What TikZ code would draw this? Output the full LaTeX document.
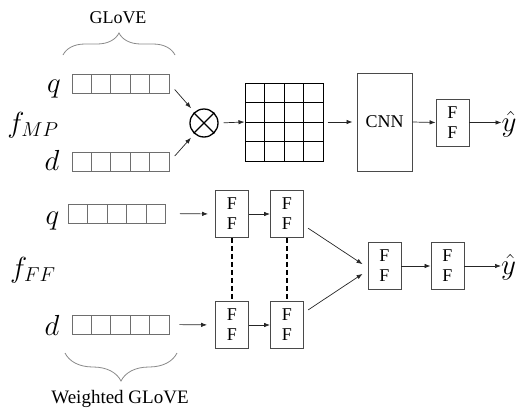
\documentclass[tikz,border=0pt]{standalone}
\usepackage{fontspec}
\setmainfont{Liberation Serif}
\usetikzlibrary{arrows.meta,decorations.pathreplacing}
\definecolor{rowgray}{HTML}{6E6E6E}
\definecolor{boxgray}{HTML}{4A4A4A}
\definecolor{bracegray}{HTML}{8A8A8A}
% subscripts at the usual 70% of the symbol size
\DeclareMathSizes{24.88}{24.88}{17.4}{12.4}
% large math symbols: set at the biggest design size and enlarged
\newcommand{\largemath}[1]{\scalebox{1.166}{$#1$}}
\begin{document}
\begin{tikzpicture}[x=1pt,y=-1pt,
  lbl/.style={font=\fontsize{18}{20}\selectfont, inner sep=0pt},
  mth/.style={font=\fontsize{24.88}{30}\selectfont, inner sep=0pt, anchor=base},
  vec/.style={draw=rowgray, line width=0.9pt, minimum width=97pt, minimum height=19pt,
    inner sep=0pt,
    path picture={\foreach \i in {1,...,4}{
      \draw[rowgray, line width=0.9pt]
        ([xshift=\i*19.4pt]path picture bounding box.south west) --
        ([xshift=\i*19.4pt]path picture bounding box.north west);}}},
  matgrid/.style={draw=black, line width=1pt, minimum size=78pt, inner sep=0pt,
    path picture={\foreach \i in {1,2,3}{
      \draw[black, line width=1pt]
        ([xshift=\i*19.5pt]path picture bounding box.south west) --
        ([xshift=\i*19.5pt]path picture bounding box.north west);
      \draw[black, line width=1pt]
        ([yshift=\i*19.5pt]path picture bounding box.south west) --
        ([yshift=\i*19.5pt]path picture bounding box.south east);}}},
  opcirc/.style={circle, draw=black, line width=1.3pt, minimum size=28pt, inner sep=0pt},
  cnnbox/.style={draw=boxgray, line width=0.9pt, minimum width=55pt, minimum height=98pt,
    font=\fontsize{18}{20}\selectfont},
  ffbox/.style={draw=boxgray, line width=0.9pt, minimum width=33pt, minimum height=47pt,
    inner sep=0pt, align=center, font=\fontsize{18}{20}\selectfont},
  arr/.style={-{Latex[length=6pt,width=4.5pt]}, line width=0.7pt, draw=black!85},
  link/.style={dash pattern=on 5pt off 3pt, line width=1.1pt},
  brc/.style={decorate, draw=bracegray, line width=0.8pt},
]
\useasboundingbox (0,0) rectangle (517,410);

% ---------- match-pyramid branch ----------
\node[lbl, anchor=base] (glove) at (118,23) {GLoVE};
\node[vec] (qA) at (120.5,83.5) {};
\node[vec] (dA) at (120.5,162) {};
\node[mth] (qAl) at (54,92) {\largemath{q}};
\node[mth] (dAl) at (52,170) {\largemath{d}};
\node[mth] (fMP) at (33,132) {\largemath{f_{MP}}};
\draw[brc, decoration={brace, amplitude=22pt}] (63,55) -- (175,55);

\node[opcirc] (ot) at (204,123) {};
\draw[line width=1.1pt] (ot.north east) -- (ot.south west);
\draw[line width=1.1pt] (ot.north west) -- (ot.south east);

\node[matgrid] (mat) at (284,122) {};
\node[cnnbox] (cnn) at (384.5,122) {CNN};
\node[ffbox] (ffA) at (452.5,122.5) {F\\F};
\node[mth, anchor=base west] (yA) at (501.5,131) {\largemath{\hat{y}}};

\draw[arr, shorten <=8pt, shorten >=5pt] (qA.east) -- (ot);
\draw[arr, shorten <=8pt, shorten >=5pt] (dA.east) -- (ot);
\draw[arr, shorten <=5pt] (ot.east) -- (mat.west);
\draw[arr, shorten <=4pt, shorten >=4pt] (mat.east) -- (cnn.west);
\draw[arr] (cnn.east) -- (ffA.west);
\draw[arr] (ffA.east) -- (ffA.east -| yA.west);

% ---------- feed-forward branch ----------
\node[vec] (qB) at (117,213.5) {};
\node[vec] (dB) at (120.5,324.5) {};
\node[mth] (qBl) at (52.5,224) {\largemath{q}};
\node[mth] (dBl) at (52,335) {\largemath{d}};
\node[mth] (fFF) at (33,277) {\largemath{f_{FF}}};
\draw[brc, decoration={brace, mirror, amplitude=28pt}] (65,353) -- (177,353);
\node[lbl, anchor=base, font=\fontsize{19}{21}\selectfont] (wglove) at (120,403) {Weighted GLoVE};

\node[ffbox] (ffB1) at (232,214) {F\\F};
\node[ffbox] (ffB2) at (287,214) {F\\F};
\node[ffbox] (ffC1) at (232,325) {F\\F};
\node[ffbox] (ffC2) at (287,325) {F\\F};
\node[ffbox] (ffM) at (384.5,266) {F\\F};
\node[ffbox] (ffO) at (447.5,266) {F\\F};
\node[mth, anchor=base west] (yB) at (501,274) {\largemath{\hat{y}}};

\draw[arr, shorten <=14pt, shorten >=7pt] (qB.east) -- (ffB1.west);
\draw[arr, shorten <=10pt, shorten >=8pt] (dB.east) -- (ffC1.west);
\draw[arr] (ffB1.east) -- (ffB2.west);
\draw[arr] (ffC1.east) -- (ffC2.west);
\draw[link] (ffB1.south) -- (ffC1.north);
\draw[link] (ffB2.south) -- (ffC2.north);
\draw[arr, shorten <=5pt, shorten >=6pt] (ffB2.-34) -- (ffM.185);
\draw[arr, shorten <=5pt, shorten >=6pt] (ffC2.36) -- (ffM.195);
\draw[arr] (ffM.east) -- (ffO.west);
\draw[arr] (ffO.east) -- (ffO.east -| yB.west);
\end{tikzpicture}
\end{document}
